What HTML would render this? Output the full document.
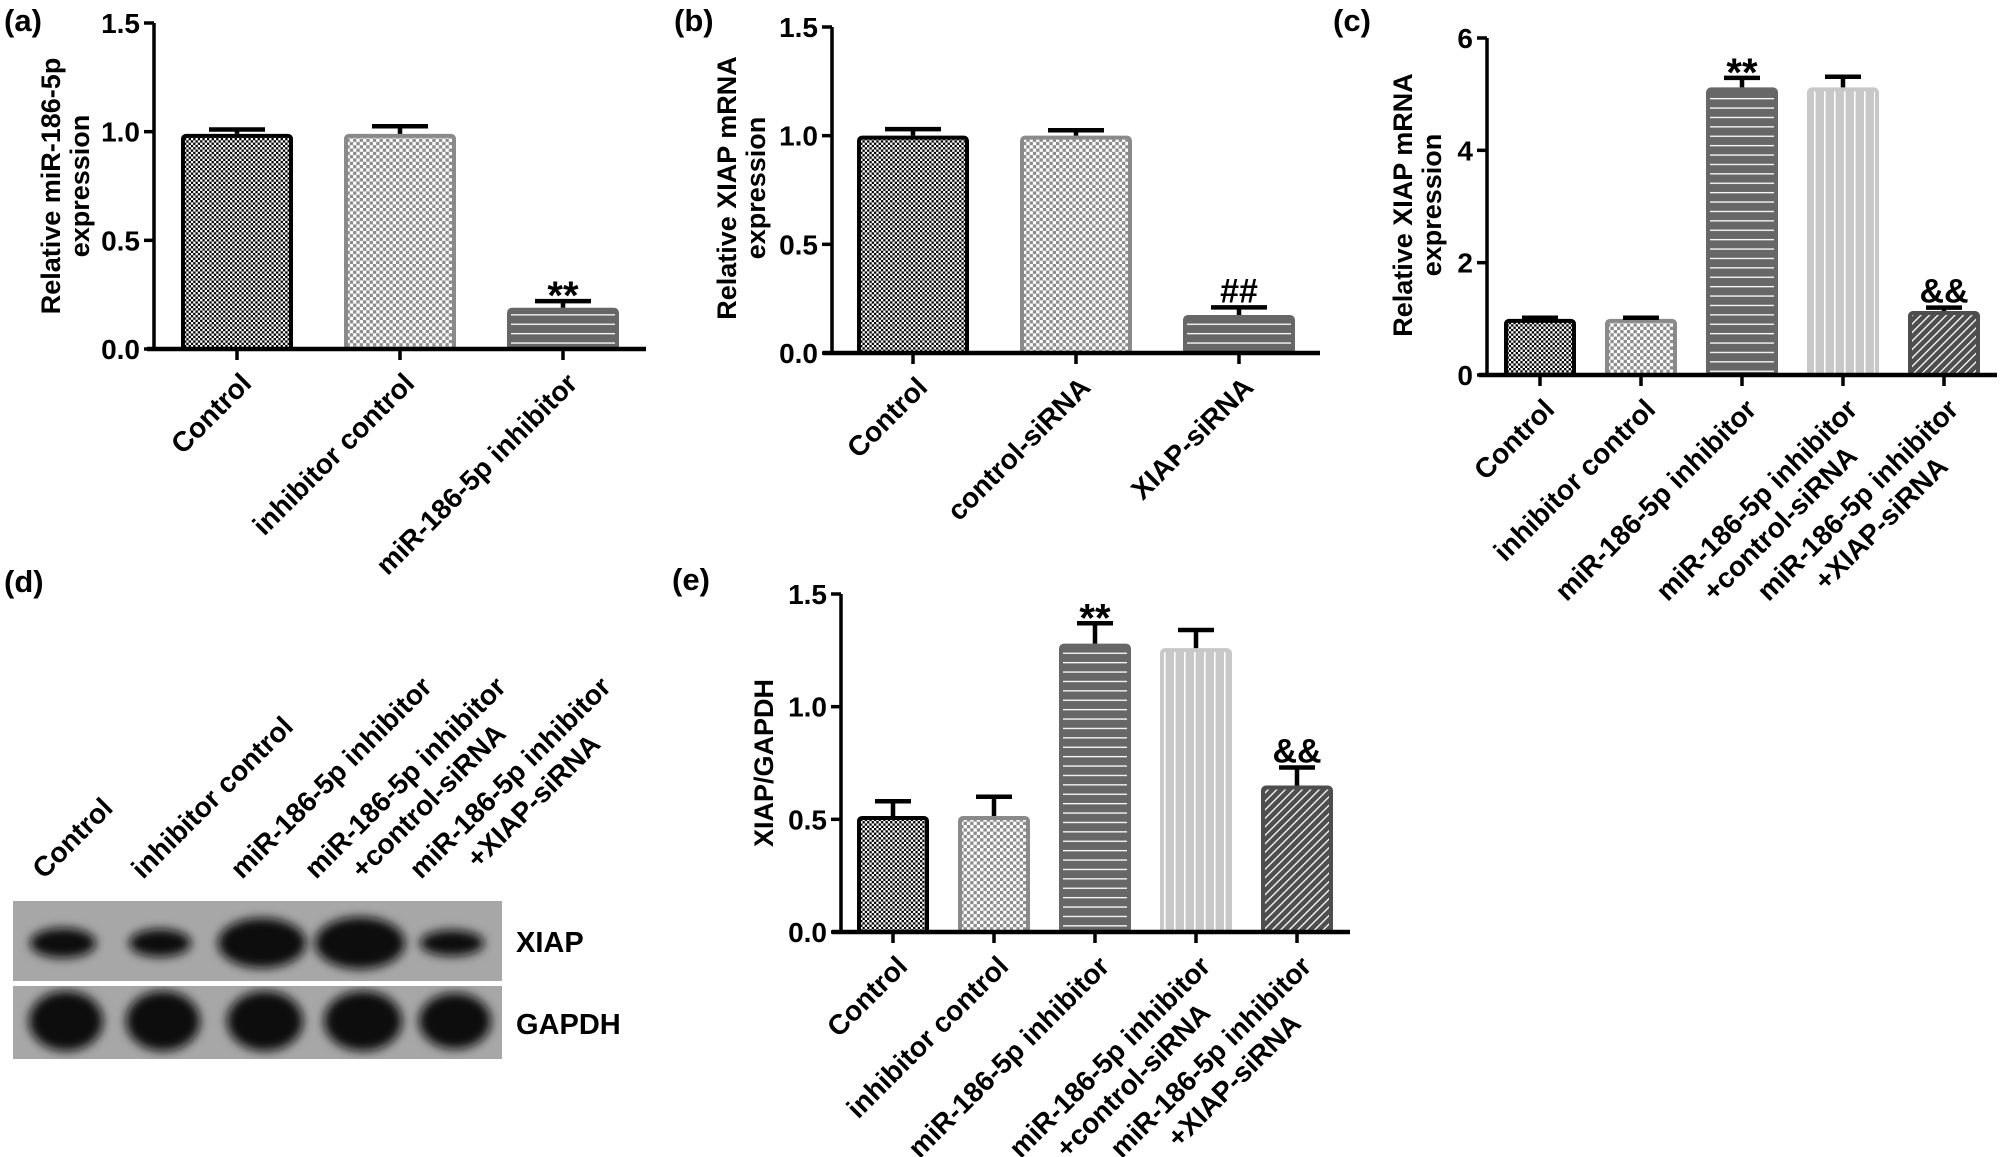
<!DOCTYPE html>
<html><head><meta charset="utf-8"><title>Figure</title>
<style>
html,body{margin:0;padding:0;background:#fff;}
svg{display:block;}
text{font-family:"Liberation Sans",Arial,sans-serif;font-weight:bold;fill:#000;}
</style></head>
<body>
<svg id="fig" xmlns="http://www.w3.org/2000/svg" width="2000" height="1157" viewBox="0 0 2000 1157">
<defs>
<pattern id="p-dense" width="4.6" height="4.6" patternUnits="userSpaceOnUse"><rect width="4.6" height="4.6" fill="#fff"/><rect width="2.3" height="2.3" fill="#000"/><rect x="2.3" y="2.3" width="2.3" height="2.3" fill="#000"/></pattern>
<pattern id="p-check" width="6.6" height="6.6" patternUnits="userSpaceOnUse"><rect width="6.6" height="6.6" fill="#8c8c8c"/><rect width="3.3" height="3.3" fill="#fff"/><rect x="3.3" y="3.3" width="3.3" height="3.3" fill="#fff"/></pattern>
<pattern id="p-h" width="10" height="9.4" patternUnits="userSpaceOnUse"><rect width="10" height="9.4" fill="#676767"/><rect y="4" width="10" height="1.3" fill="#fff"/></pattern>
<pattern id="p-v" width="10" height="10" patternUnits="userSpaceOnUse"><rect width="10" height="10" fill="#c8c8c8"/><rect x="4" width="1.6" height="10" fill="#fff"/></pattern>
<pattern id="p-d" width="6" height="6" patternUnits="userSpaceOnUse" patternTransform="rotate(45)"><rect width="6" height="6" fill="#4e4e4e"/><rect x="2.5" width="1.3" height="6" fill="#fff"/></pattern>
<filter id="blur" x="-50%" y="-50%" width="200%" height="200%"><feGaussianBlur stdDeviation="5"/></filter>
</defs>
<text x="4" y="31" font-size="31">(a)</text>
<text x="674" y="31" font-size="31">(b)</text>
<text x="1333" y="31" font-size="31">(c)</text>
<text x="4" y="592" font-size="31">(d)</text>
<text x="672" y="590" font-size="31">(e)</text>
</svg>
<script>
// ---- chart data ----
const aCats = [["Control"],["inhibitor control"],["miR-186-5p inhibitor"]];
const aVals = [0.99, 0.99, 0.19];
const aErrs = [0.02, 0.035, 0.03];
const aAnn = ["", "", "**"];
const abTicks = [0, 0.5, 1.0, 1.5];
const abTickLabels = ["0.0", "0.5", "1.0", "1.5"];

const bCats = [["Control"],["control-siRNA"],["XIAP-siRNA"]];
const bVals = [1.0, 1.0, 0.175];
const bErrs = [0.03, 0.025, 0.035];
const bAnn = ["", "", "##"];

const cCats = [["Control"],["inhibitor control"],["miR-186-5p inhibitor"],["miR-186-5p inhibitor","+control-siRNA"],["miR-186-5p inhibitor","+XIAP-siRNA"]];
const cVals = [1.0, 1.0, 5.12, 5.12, 1.14];
const cErrs = [0.02, 0.02, 0.17, 0.19, 0.06];
const cAnn = ["", "", "**", "", "&&"];
const cTicks = [0, 2, 4, 6];
const cTickLabels = ["0", "2", "4", "6"];

const eVals = [0.515, 0.515, 1.28, 1.26, 0.65];
const eErrs = [0.065, 0.085, 0.09, 0.08, 0.08];
const eAnn = ["", "", "**", "", "&&"];

const blotLanes = ["Control","inhibitor control","miR-186-5p inhibitor","miR-186-5p inhibitor|+control-siRNA","miR-186-5p inhibitor|+XIAP-siRNA"];
const xiapBandW = [33, 31, 44, 45, 32];
const xiapBandH = [15, 14, 25, 26, 13];
const gapdhBandW = [37, 37, 38, 39, 36];
const gapdhBandH = [30, 30, 30, 30, 28];

const NS = "http://www.w3.org/2000/svg";
const svg = document.getElementById("fig");
const styles = [
  {fill:"url(#p-dense)", stroke:"#000"},
  {fill:"url(#p-check)", stroke:"#8a8a8a"},
  {fill:"url(#p-h)", stroke:"#676767"},
  {fill:"url(#p-v)", stroke:"#c8c8c8"},
  {fill:"url(#p-d)", stroke:"#4e4e4e"}
];
const bStyles = [styles[0], styles[1], styles[2]];

function mk(tag, attrs, parent) {
  const el = document.createElementNS(NS, tag);
  for (const k in attrs) el.setAttribute(k, attrs[k]);
  (parent || svg).appendChild(el);
  return el;
}

function multiLabel(parent, lines, ax, ay, fs, endAnchored, lh) {
  const g = mk("g", {transform: "translate(" + ax + "," + ay + ") rotate(-45)"}, parent);
  const ts = lines.map((s, i) => {
    const t = mk("text", {x: 0, y: i * lh, "font-size": fs, "text-anchor": "middle"}, g);
    t.textContent = s;
    return t;
  });
  let W = 0;
  ts.forEach(t => { W = Math.max(W, t.getComputedTextLength()); });
  ts.forEach(t => t.setAttribute("x", endAnchored ? -W / 2 : W / 2));
  return g;
}

function drawChart(P) {
  const g = mk("g", {});
  
  
  const y = v => P.y0 - v / P.ymax * (P.y0 - P.yTop);
  const x = i => P.c0 + i * P.step;
  P.vals.forEach((v, i) => {
    const st = P.styles[i];
    const r = mk("rect", {x: x(i) - P.bw / 2 + 2, y: y(v) + 2, width: P.bw - 4, height: P.y0 - y(v) - 2, rx: 3, fill: st.fill, stroke: st.stroke, "stroke-width": 4}, g);
    
    
    const top = y(v + P.errs[i]);
    const e = mk("path", {d: "M" + x(i) + "," + y(v) + "V" + top + "M" + (x(i) - P.bw * 0.25) + "," + top + "H" + (x(i) + P.bw * 0.25), stroke: "#000", "stroke-width": 4.5, fill: "none"}, g);
    
    
    if (P.ann[i]) {
      const star = P.ann[i] === "**";
      const t = mk("text", {x: x(i), y: star ? top + 8 : top - 5, "font-size": star ? 40 : 34, "text-anchor": "middle"}, g);
      t.textContent = P.ann[i];
      
      
    }
  });
  const ya = mk("line", {x1: P.ax, y1: P.yTop, x2: P.ax, y2: P.y0, stroke: "#000", "stroke-width": 3.5}, g);
  
  
  const xa = mk("line", {x1: P.xs, y1: P.y0, x2: P.xe, y2: P.y0, stroke: "#000", "stroke-width": 4.5}, g);
  
  
  P.ticks.forEach((tv, i) => {
    mk("line", {x1: P.ax - 10, y1: y(tv), x2: P.ax, y2: y(tv), stroke: "#000", "stroke-width": 3.5}, g);
    const t = mk("text", {x: P.ax - 14, y: y(tv) + 10, "font-size": 28, "text-anchor": "end"}, g);
    t.textContent = P.tickLabels[i];
    
    
  });
  P.cats.forEach((c, i) => {
    mk("line", {x1: x(i), y1: P.y0, x2: x(i), y2: P.y0 + 11, stroke: "#000", "stroke-width": 3.5}, g);
    const lg = multiLabel(g, c, x(i) + 16, P.y0 + 36, 28, true, 33);
    
    
  });
  const tg = mk("g", {transform: "translate(" + P.tx + "," + P.ty + ") rotate(-90)"}, g);
  
  
  P.title.forEach((s, i) => {
    const t = mk("text", {x: 0, y: i * 29, "font-size": 27, "text-anchor": "middle"}, tg);
    t.textContent = s;
  });
}

drawChart({name: "chart-a", cats: aCats, vals: aVals, errs: aErrs, ann: aAnn, ticks: abTicks, tickLabels: abTickLabels, ymax: 1.5,
  ax: 154, y0: 349, yTop: 23, c0: 237, step: 163, bw: 112, xs: 147, xe: 646, styles: bStyles,
  title: ["Relative miR-186-5p", "expression"], tx: 60, ty: 186});
drawChart({name: "chart-b", cats: bCats, vals: bVals, errs: bErrs, ann: bAnn, ticks: abTicks, tickLabels: abTickLabels, ymax: 1.5,
  ax: 832, y0: 353, yTop: 27, c0: 913, step: 163, bw: 112, xs: 823, xe: 1320, styles: bStyles,
  title: ["Relative XIAP mRNA", "expression"], tx: 736, ty: 188});
drawChart({name: "chart-c", cats: cCats, vals: cVals, errs: cErrs, ann: cAnn, ticks: cTicks, tickLabels: cTickLabels, ymax: 6,
  ax: 1487, y0: 375, yTop: 38, c0: 1540, step: 101, bw: 72, xs: 1479, xe: 1997, styles: styles,
  title: ["Relative XIAP mRNA", "expression"], tx: 1412, ty: 205});
drawChart({name: "chart-e", cats: cCats, vals: eVals, errs: eErrs, ann: eAnn, ticks: abTicks, tickLabels: abTickLabels, ymax: 1.5,
  ax: 841, y0: 932, yTop: 594, c0: 893, step: 101, bw: 72, xs: 832, xe: 1350, styles: styles,
  title: ["XIAP/GAPDH"], tx: 773, ty: 763});

// ---- western blot (d) ----
const bg = mk("g", {});


const laneX = [63, 160, 262, 360, 452];
const xb = mk("rect", {x: 13, y: 901, width: 489, height: 80, fill: "#a7a7a7"}, bg);


const gb = mk("rect", {x: 13, y: 986, width: 489, height: 73, fill: "#a7a7a7"}, bg);


const clipX = mk("clipPath", {id: "cx"}, bg); mk("rect", {x: 13, y: 901, width: 489, height: 80}, clipX);
const clipG = mk("clipPath", {id: "cg"}, bg); mk("rect", {x: 13, y: 986, width: 489, height: 73}, clipG);
const gx = mk("g", {"clip-path": "url(#cx)"}, bg);
const gg = mk("g", {"clip-path": "url(#cg)"}, bg);
laneX.forEach((lx, i) => {
  const b1 = mk("ellipse", {cx: lx, cy: 943, rx: xiapBandW[i], ry: xiapBandH[i], fill: "#0c0c0c", filter: "url(#blur)"}, gx);
  
  
  const b2 = mk("ellipse", {cx: lx + 3, cy: 1021, rx: gapdhBandW[i], ry: gapdhBandH[i], fill: "#0c0c0c", filter: "url(#blur)"}, gg);
  
  
});
const t1 = mk("text", {x: 516, y: 952, "font-size": 29}, bg);
t1.textContent = "XIAP";


const t2 = mk("text", {x: 516, y: 1034, "font-size": 29}, bg);
t2.textContent = "GAPDH";


const laneLX = [44, 143, 242, 316, 421];
blotLanes.forEach((s, i) => {
  const lg = multiLabel(bg, s.split("|"), laneLX[i], 880, 28, false, 33);
  
  
});
</script>
</body></html>
